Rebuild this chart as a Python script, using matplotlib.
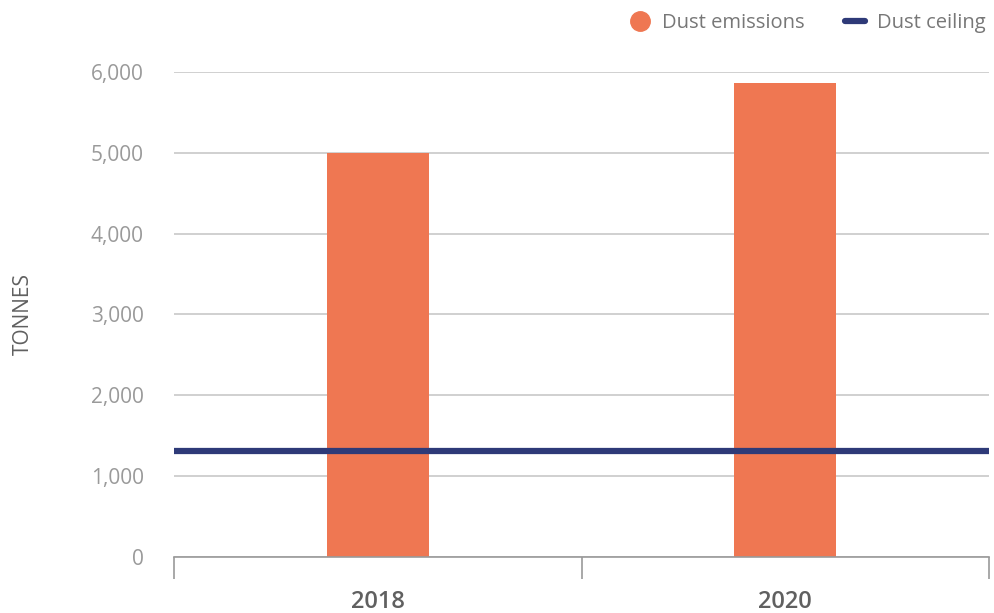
import matplotlib
matplotlib.use("Agg")
from matplotlib import pyplot as plt
from matplotlib.lines import Line2D
from matplotlib.ticker import FuncFormatter

# Dados
anos = ["2018", "2020"]
emissoes = [5000, 5870]
teto = 1310

plt.rcParams['font.family'] = ['Open Sans', 'DejaVu Sans']

figura = plt.figure(figsize=(9.95, 6.13), dpi=100)
ax = figura.add_axes([0.175, 0.0914, 0.819, 0.7911])

x = range(len(anos))
ax.bar(x, emissoes, width=0.25, color='#EF7752', zorder=2)
ax.axhline(teto, color='#2E3A78', linewidth=4.5, solid_capstyle='round', zorder=3)

ax.set_xlim(-0.5, len(anos) - 0.5)
ax.set_ylim(0, 6000)
ax.set_yticks(range(0, 6001, 1000))
ax.yaxis.set_major_formatter(FuncFormatter(lambda v, p: f"{int(v):,}"))
ax.set_xticks(list(x))
ax.set_xticklabels(anos, fontweight='semibold')

# Grade e eixos
ax.grid(axis='y', color='#C8C8C8', linewidth=1.2, zorder=0)
for s in ['top', 'right', 'left']:
    ax.spines[s].set_visible(False)
ax.spines['bottom'].set_color('#999999')
ax.spines['bottom'].set_linewidth(1.2)
ax.tick_params(axis='y', length=0, pad=22, labelsize=15, labelcolor='#9A9A9A')
ax.tick_params(axis='x', length=0, pad=24, labelsize=17, labelcolor='#606060')
# ticks de separação das categorias
ax.set_xticks([-0.5, 0.5, 1.5], minor=True)
ax.tick_params(axis='x', which='minor', length=16, width=1.2, color='#999999')

ax.set_ylabel('TONNES', fontsize=15, color='#606060')
ax.yaxis.set_label_coords(-0.172, 0.5)

# Legenda
alcas = [
    Line2D([], [], marker='o', linestyle='none', markersize=14, color='#EF7752'),
    Line2D([], [], color='#2E3A78', linewidth=4.5, solid_capstyle='round'),
]
figura.legend(alcas, ['Dust emissions', 'Dust ceiling'], loc='upper right',
              bbox_to_anchor=(1.009, 1.008), ncol=2, frameon=False, fontsize=14.5,
              labelcolor='#777777', handlelength=1.0, handletextpad=0.6,
              columnspacing=2.0)

figura.savefig('out.png', dpi=100)
